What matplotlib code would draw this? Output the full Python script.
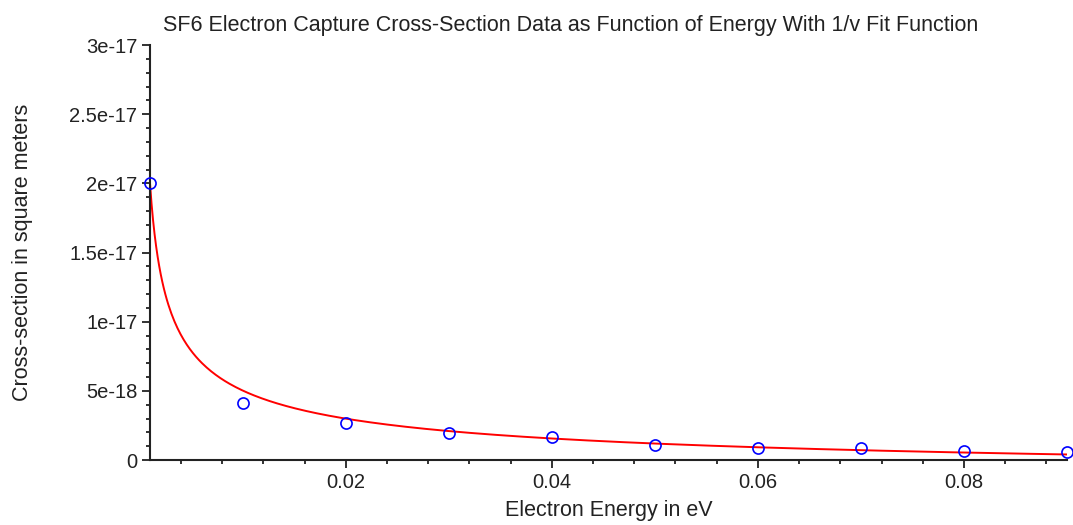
import numpy as np
import matplotlib
matplotlib.use("Agg")
import matplotlib.pyplot as plt
from matplotlib.ticker import MultipleLocator

plt.rcParams['font.family'] = ['Liberation Sans', 'DejaVu Sans']

# measured data points (energy in eV, cross-section in m^2)
energy = [0.001, 0.01, 0.02, 0.03, 0.04, 0.05, 0.06, 0.07, 0.08, 0.09]
cross_section = [2.0e-17, 4.1e-18, 2.65e-18, 1.95e-18, 1.65e-18,
                 1.1e-18, 0.85e-18, 0.85e-18, 0.67e-18, 0.55e-18]

# 1/v fit: sigma = offset + coef / sqrt(E)
fit_offset = -1.91e-18
fit_coef = 6.93e-19

y_ticks = [0, 5e-18, 1e-17, 1.5e-17, 2e-17, 2.5e-17, 3e-17]
y_tick_labels = ["0", "5e-18", "1e-17", "1.5e-17", "2e-17", "2.5e-17", "3e-17"]
x_ticks = [0.02, 0.04, 0.06, 0.08]
x_tick_labels = ["0.02", "0.04", "0.06", "0.08"]

fig = plt.figure(figsize=(10.73, 5.25), dpi=100)
ax = fig.add_axes([150 / 1073, 1 - 460 / 525, 917 / 1073, 415 / 525])

e_fit = np.linspace(energy[0], energy[-1], 600)
ax.plot(e_fit, fit_offset + fit_coef / np.sqrt(e_fit), color="#ff0000", lw=1.4, zorder=2)
ax.plot(energy, cross_section, "o", mfc="none", mec="#0000ff", ms=8, mew=1.2,
        clip_on=False, zorder=3)

ax.set_xlim(0.001, 0.09)
ax.set_ylim(0, 3e-17)

for s in ["top", "right"]:
    ax.spines[s].set_visible(False)
for s in ["left", "bottom"]:
    ax.spines[s].set_linewidth(1.5)
    ax.spines[s].set_color("#222222")

ax.set_yticks(y_ticks)
ax.set_yticklabels(y_tick_labels)
ax.set_xticks(x_ticks)
ax.set_xticklabels(x_tick_labels)
ax.yaxis.set_minor_locator(MultipleLocator(1e-18))
ax.xaxis.set_minor_locator(MultipleLocator(0.004))
ax.tick_params(axis="both", which="major", length=6, width=1.3, labelsize=14.5,
               color="#222222", labelcolor="#222222", pad=3)
ax.tick_params(axis="both", which="minor", length=3, width=1.3, color="#222222")

ax.set_xlabel("Electron Energy in eV", fontsize=15.5, color="#222222", labelpad=6)
ax.set_ylabel("Cross-section in square meters", fontsize=15.5, color="#222222", labelpad=26)
fig.text(571 / 1073, 1 - 25 / 525, "SF6 Electron Capture Cross-Section Data as Function of Energy With 1/v Fit Function",
         ha="center", va="center", fontsize=15.5, color="#222222")

fig.savefig("out.png", dpi=100)
